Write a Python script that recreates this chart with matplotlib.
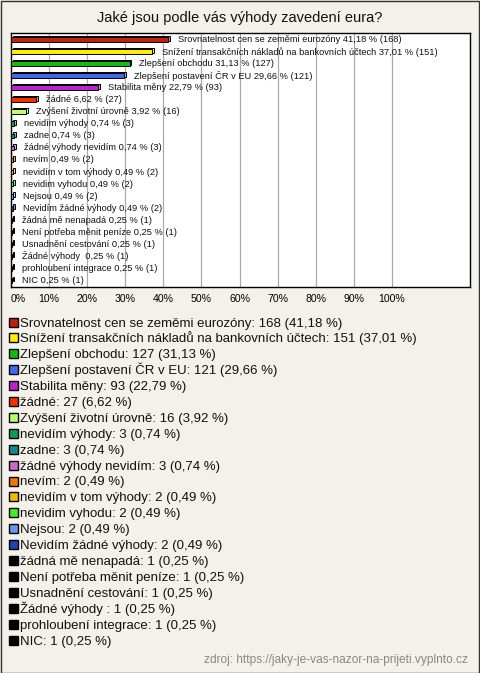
import numpy as np
import matplotlib.pyplot as plt
import matplotlib.colors as mcolors
from matplotlib.patches import Rectangle

# Survey answers, counts and shares
answers = [
    "Srovnatelnost cen se zeměmi eurozóny",
    "Snížení transakčních nákladů na bankovních účtech",
    "Zlepšení obchodu",
    "Zlepšení postavení ČR v EU",
    "Stabilita měny",
    "žádné",
    "Zvýšení životní úrovně",
    "nevidím výhody",
    "zadne",
    "žádné výhody nevidím",
    "nevím",
    "nevidím v tom výhody",
    "nevidim vyhodu",
    "Nejsou",
    "Nevidím žádné výhody",
    "žádná mě nenapadá",
    "Není potřeba měnit peníze",
    "Usnadnění cestování",
    "Žádné výhody ",
    "prohloubení integrace",
    "NIC",
]
counts = [168, 151, 127, 121, 93, 27, 16, 3, 3, 3, 2, 2, 2, 2, 2, 1, 1, 1, 1, 1, 1]
shares = [41.18, 37.01, 31.13, 29.66, 22.79, 6.62, 3.92, 0.74, 0.74, 0.74,
          0.49, 0.49, 0.49, 0.49, 0.49, 0.25, 0.25, 0.25, 0.25, 0.25, 0.25]
colors = ["#c41e0c", "#ffee00", "#11bb11", "#4466ee", "#bb22cc", "#ee3300",
          "#bbff66", "#119955", "#118899", "#cc66cc", "#ee7700", "#eebb00",
          "#44ee22", "#6699ee", "#2244aa", "#000000", "#000000", "#000000",
          "#000000", "#000000", "#000000"]
xticks = [0, 10, 20, 30, 40, 50, 60, 70, 80, 90, 100]

bg = "#f3f1e9"
W, H = 480, 673


def fmt(v):
    return f"{v:.2f}".replace(".", ",")


def lighter(c, f=0.45):
    r, g, b = mcolors.to_rgb(c)
    return (r + (1 - r) * f, g + (1 - g) * f, b + (1 - b) * f)


def px(x, y):
    # pixel position (from top-left) -> figure fraction
    return x / W, 1 - y / H


plt.rcParams['font.family'] = ['Liberation Sans', 'DejaVu Sans']
fig = plt.figure(figsize=(W / 100, H / 100), dpi=100, facecolor=bg)

ax = fig.add_axes([11 / W, 1 - 287 / H, 459 / W, 254 / H])
ax.set_facecolor("white")

y = np.arange(len(answers))
dx, dy = 0.45, 0.12  # fake 3D depth
ax.barh(y - dy, shares, left=dx, height=0.4,
        color=[lighter(c) for c in colors], edgecolor="black", lw=0.7, zorder=2)
front = ax.barh(y, shares, height=0.4, color=colors, edgecolor="black",
                lw=0.7, zorder=3)

for yi, name, v, n in zip(y, answers, shares, counts):
    ax.annotate(f"{name} {fmt(v)} % ({n})",
                xy=(v + dx, yi), xytext=(8, 0), textcoords="offset pixels",
                va="center", ha="left", fontsize=6.7, color="#111111", zorder=4)

ax.set_xlim(0, 120.5)
ax.set_ylim(len(answers) - 0.45, -0.55)
ax.set_xticks(xticks)
ax.set_xticklabels([f"{t}%" for t in xticks], fontsize=7.6)
ax.get_xticklabels()[0].set_horizontalalignment("left")
ax.set_yticks([])
ax.tick_params(axis="x", length=0, pad=5)
ax.grid(axis="x", color="#aaaaaa", lw=0.9, zorder=1)
for s in ax.spines.values():
    s.set_color("black")
    s.set_linewidth(1)

fig.text(*px(240, 18), "Jaké jsou podle vás výhody zavedení eura?",
         ha="center", va="center", fontsize=10.5, color="#111111")

# legend, drawn row by row so the spacing stays even
row0, step = 322, 15.9
for i, (a, n, v, c) in enumerate(zip(answers, counts, shares, colors)):
    yc = row0 + i * step
    x0, y0 = px(9, yc + 4.5)
    fig.add_artist(Rectangle((x0, y0), 9 / W, 9 / H, transform=fig.transFigure,
                             facecolor=c, edgecolor="black", lw=1))
    fig.text(*px(20, yc + 4.5), f"{a}: {n} ({fmt(v)} %)", ha="left",
             va="baseline", fontsize=9.5, color="#111111")

fig.text(*px(468, 660),
         "zdroj: https://jaky-je-vas-nazor-na-prijeti.vyplnto.cz",
         ha="right", va="center", fontsize=8.6, color="#888888")

fig.add_artist(Rectangle((0.5 / W, 0.5 / H), (W - 1.5) / W, (H - 1.5) / H,
                         transform=fig.transFigure, fill=False,
                         edgecolor="#333333", lw=1))

fig.savefig("out.png", dpi=100, facecolor=bg)
